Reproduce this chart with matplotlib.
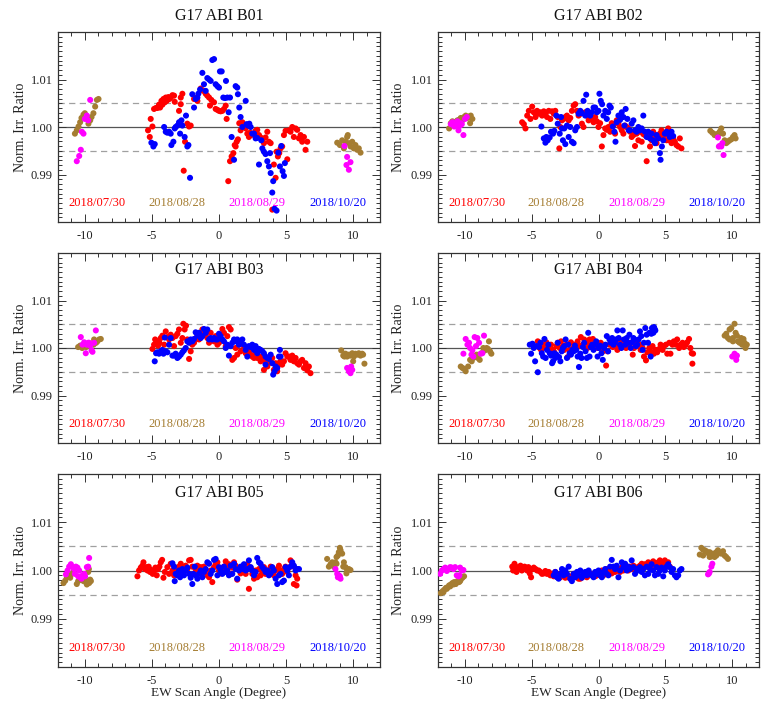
import numpy as np
import matplotlib
matplotlib.use("Agg")
import matplotlib.pyplot as plt
from matplotlib.ticker import MultipleLocator, FixedLocator

plt.rcParams['font.family'] = ['Liberation Serif', 'DejaVu Serif']

# ---------------- data: (EW scan angle [deg], normalized irradiance ratio) ----------------
DATES = ["2018/07/30", "2018/08/28", "2018/08/29", "2018/10/20"]
DATE_COLORS = ["#FF0000", "#A57D32", "#FF00FF", "#0000FF"]
DATE_LABEL_X = [-9.1, -3.15, 2.85, 8.85]
BANDS = ["B01", "B02", "B03", "B04", "B05", "B06"]
XTICKS = [-10, -5, 0, 5, 10]
YTICKS = [0.99, 1.00, 1.01]
YTICK_LABELS = ["0.99", "1.00", "1.01"]

B01_RED = [(-5.29,0.9993),(-5.16,0.9979),(-5.09,1.0017),(-4.96,1.0001),(-4.84,1.0038),(-4.71,1.0040),(-4.59,1.0040),(-4.47,1.0047),(-4.39,1.0041),(-4.29,1.0055),(-4.22,1.0047),(-4.14,1.0059),(-4.04,1.0052),(-3.97,1.0062),(-3.90,1.0055),(-3.85,1.0058),(-3.77,1.0063),(-3.70,1.0059),(-3.60,1.0062),(-3.47,1.0067),(-3.35,1.0066),(-3.30,1.0053),(-2.98,1.0034),(-2.85,1.0048),(-2.73,1.0070),(-2.85,1.0062),(-2.63,0.9908),(-2.53,0.9969),(-2.36,1.0007),(-2.23,1.0001),(-2.11,1.0003),(-1.86,1.0059),(-1.74,1.0061),(-1.61,1.0055),(-1.36,1.0081),(-1.24,1.0077),(-1.12,1.0076),(-0.99,1.0070),(-0.87,1.0066),(-0.74,1.0062),(-0.67,1.0045),(-0.57,1.0057),(-0.37,1.0052),(-0.25,1.0038),(-0.12,1.0036),(0.00,1.0034),(0.12,1.0033),(0.25,1.0034),(0.37,1.0038),(0.50,1.0045),(0.57,1.0017),(0.69,0.9886),(0.82,0.9928),(0.94,0.9938),(1.07,0.9945),(1.17,0.9962),(1.24,0.9959),(1.32,0.9969),(1.41,0.9974),(1.51,1.0008),(1.61,0.9993),(1.74,1.0010),(1.86,1.0003),(1.99,0.9997),(2.11,0.9986),(2.23,0.9979),(2.31,0.9988),(2.41,0.9983),(2.56,0.9986),(2.73,0.9992),(2.85,0.9994),(2.98,0.9983),(3.10,0.9978),(3.23,0.9972),(3.35,0.9966),(3.47,0.9978),(3.60,0.9990),(3.72,0.9969),(3.85,0.9966),(3.97,0.9826),(4.09,0.9921),(4.22,0.9893),(4.29,0.9948),(4.39,0.9938),(4.49,0.9945),(4.59,0.9955),(4.71,0.9959),(4.84,0.9983),(4.96,0.9992),(5.09,0.9932),(5.21,0.9993),(5.33,0.9990),(5.46,1.0000),(5.58,0.9979),(5.71,0.9997),(5.83,0.9994),(5.96,0.9976),(6.08,0.9983),(6.20,0.9969),(6.33,0.9979),(6.45,0.9952),(6.58,0.9969)]
B01_BROWN = [(-10.74,0.9986),(-10.60,0.9993),(-10.47,1.0001),(-10.35,1.0010),(-10.25,1.0019),(-10.10,1.0026),(-10.00,1.0029),(-9.85,1.0022),(-9.73,1.0007),(-9.60,1.0014),(-9.50,1.0021),(-9.36,1.0029),(-9.23,1.0043),(-9.10,1.0057),(-8.98,1.0059),(8.81,0.9967),(9.01,0.9962),(9.18,0.9972),(9.31,0.9955),(9.43,0.9969),(9.55,0.9979),(9.68,0.9966),(9.80,0.9959),(9.93,0.9969),(10.05,0.9955),(10.17,0.9962),(10.30,0.9952),(10.42,0.9955),(10.55,0.9946),(9.60,0.9983)]
B01_MAGENTA = [(-10.60,0.9928),(-10.42,0.9939),(-10.30,0.9952),(-10.22,0.9990),(-10.10,0.9986),(-10.00,1.0017),(-9.85,1.0024),(-9.75,1.0014),(-9.60,1.0057),(9.35,0.9960),(9.55,0.9937),(9.80,0.9926),(9.68,0.9910),(9.50,0.9920)]
B01_BLUE = [(-5.04,0.9967),(-4.89,0.9959),(-4.79,0.9964),(-4.09,1.0000),(-3.97,0.9990),(-3.85,0.9988),(-3.72,0.9990),(-3.60,0.9986),(-3.55,0.9962),(-3.40,0.9969),(-3.30,0.9997),(-3.23,1.0000),(-3.10,1.0003),(-2.98,1.0010),(-2.90,0.9986),(-2.80,1.0014),(-2.73,1.0003),(-2.56,0.9979),(-2.46,1.0024),(-2.36,0.9959),(-2.28,0.9962),(-2.16,0.9893),(-1.99,1.0069),(-1.86,1.0041),(-1.74,1.0059),(-1.61,1.0062),(-1.54,1.0070),(-1.41,1.0079),(-1.24,1.0114),(-1.12,1.0090),(-0.99,1.0076),(-0.87,1.0103),(-0.74,1.0100),(-0.62,1.0097),(-0.50,1.0141),(-0.37,1.0143),(-0.25,1.0090),(-0.12,1.0086),(0.00,1.0083),(0.07,1.0117),(0.20,1.0117),(0.32,1.0062),(0.45,1.0061),(0.52,1.0097),(0.62,1.0062),(0.72,1.0031),(0.82,1.0062),(0.94,0.9979),(1.12,0.9931),(1.24,1.0086),(1.36,1.0083),(1.41,1.0069),(1.51,1.0041),(1.61,1.0021),(1.74,1.0000),(1.99,1.0055),(2.06,1.0006),(2.16,1.0003),(2.26,1.0007),(2.36,1.0000),(2.48,0.9986),(2.61,0.9986),(2.73,0.9976),(2.85,0.9977),(2.98,0.9921),(3.15,0.9972),(3.23,0.9955),(3.35,0.9948),(3.47,0.9943),(3.60,0.9928),(3.72,0.9917),(3.80,0.9945),(3.85,0.9903),(3.97,0.9862),(4.04,0.9886),(4.14,0.9828),(4.29,0.9824),(4.42,0.9946),(4.54,0.9917),(4.64,0.9960),(4.74,0.9907),(4.84,0.9897),(4.91,0.9924)]

B02_RED = [(-5.71,1.0010),(-5.58,1.0006),(-5.46,0.9997),(-5.33,1.0024),(-5.21,1.0034),(-5.09,1.0017),(-4.96,1.0043),(-4.84,1.0031),(-4.71,1.0021),(-4.59,1.0034),(-4.47,1.0028),(-4.34,1.0031),(-4.22,1.0024),(-4.09,1.0033),(-3.97,1.0028),(-3.85,1.0021),(-3.72,1.0034),(-3.60,1.0017),(-3.47,1.0033),(-3.35,1.0028),(-3.23,1.0034),(-3.05,1.0021),(-2.93,0.9955),(-2.85,1.0000),(-2.73,1.0014),(-2.61,1.0017),(-2.48,1.0021),(-2.36,1.0024),(-2.23,1.0014),(-2.11,1.0019),(-1.99,1.0034),(-1.86,1.0045),(-1.74,1.0048),(-1.61,1.0034),(-1.49,1.0024),(-1.36,1.0028),(-1.24,1.0007),(-1.12,1.0000),(-0.99,1.0031),(-0.87,1.0024),(-0.74,1.0014),(-0.62,1.0028),(-0.50,1.0017),(-0.37,1.0010),(-0.25,1.0021),(-0.12,1.0012),(0.00,1.0000),(0.12,1.0008),(0.25,0.9959),(0.37,0.9983),(0.50,0.9997),(0.62,0.9994),(0.74,1.0000),(0.87,0.9990),(0.99,1.0008),(1.12,1.0003),(1.24,0.9986),(1.36,1.0014),(1.49,1.0007),(1.61,1.0000),(1.74,0.9993),(1.86,0.9986),(1.99,1.0003),(2.11,1.0000),(2.23,0.9997),(2.36,0.9990),(2.48,0.9979),(2.61,0.9983),(2.73,0.9960),(2.85,0.9986),(2.98,0.9972),(3.10,0.9990),(3.23,0.9969),(3.35,0.9985),(3.47,0.9983),(3.60,0.9928),(3.72,0.9979),(3.85,0.9959),(3.97,0.9972),(4.09,0.9990),(4.22,0.9979),(4.34,0.9966),(4.47,0.9976),(4.59,0.9986),(4.71,0.9993),(4.84,0.9979),(4.96,0.9983),(5.09,0.9972),(5.21,0.9997),(5.33,0.9972),(5.46,0.9966),(5.58,0.9976),(5.71,0.9969),(5.83,0.9962),(5.96,0.9959),(6.08,0.9976),(6.20,0.9955)]
B02_BROWN = [(-11.17,0.9997),(-11.04,1.0008),(-10.92,1.0012),(-10.79,1.0007),(-10.67,1.0010),(-10.55,1.0014),(-10.42,1.0015),(-10.30,1.0019),(-10.17,1.0014),(-10.05,1.0021),(-9.93,1.0024),(-9.80,1.0019),(-9.68,1.0022),(-9.55,1.0024),(-9.43,1.0017),(-9.60,1.0008),(8.36,0.9992),(8.51,0.9988),(8.68,0.9983),(8.81,0.9985),(8.93,0.9983),(9.06,0.9990),(9.18,0.9997),(9.31,0.9986),(9.43,0.9972),(9.55,0.9966),(9.68,0.9969),(9.80,0.9972),(9.93,0.9974),(10.05,0.9979),(10.17,0.9983),(10.25,0.9976)]
B02_MAGENTA = [(-11.04,1.0006),(-10.92,1.0010),(-10.79,1.0001),(-10.67,1.0007),(-10.55,1.0012),(-10.47,0.9993),(-10.35,1.0003),(-10.22,1.0006),(-10.10,0.9983),(-9.98,1.0017),(-9.85,1.0021),(-10.30,1.0008),(-10.60,1.0003),(8.93,0.9978),(9.06,0.9960),(9.18,0.9959),(9.26,0.9966),(9.35,0.9941),(9.00,0.9959)]
B02_BLUE = [(-4.27,1.0001),(-4.09,0.9976),(-3.97,0.9967),(-3.90,0.9979),(-3.80,0.9972),(-3.65,0.9978),(-3.55,0.9990),(-3.40,0.9986),(-3.30,0.9992),(-3.15,1.0024),(-3.05,1.0007),(-2.90,0.9986),(-2.80,1.0021),(-2.73,0.9997),(-2.66,0.9972),(-2.56,0.9997),(-2.48,0.9964),(-2.36,1.0003),(-2.23,0.9979),(-2.11,1.0000),(-1.99,0.9969),(-1.86,0.9966),(-1.74,0.9993),(-1.61,1.0000),(-1.49,1.0028),(-1.36,1.0034),(-1.24,1.0029),(-1.12,1.0055),(-0.99,1.0024),(-0.92,1.0068),(-0.82,1.0034),(-0.74,1.0028),(-0.62,1.0024),(-0.50,1.0031),(-0.37,1.0041),(-0.25,1.0041),(-0.12,1.0031),(0.00,1.0034),(0.07,1.0070),(0.17,1.0055),(0.27,1.0048),(0.37,1.0024),(0.50,1.0034),(0.62,1.0017),(0.72,1.0031),(0.82,1.0045),(0.92,1.0041),(1.07,1.0001),(1.19,0.9990),(1.27,0.9969),(1.36,1.0010),(1.49,1.0024),(1.61,1.0015),(1.74,1.0031),(1.86,1.0021),(1.94,1.0003),(2.03,1.0038),(2.16,1.0017),(2.26,0.9993),(2.36,0.9993),(2.48,1.0007),(2.61,1.0014),(2.73,0.9993),(2.85,0.9990),(2.98,1.0000),(3.10,0.9993),(3.23,0.9997),(3.35,1.0024),(3.47,0.9990),(3.60,0.9979),(3.72,0.9990),(3.85,0.9976),(3.97,0.9986),(4.09,0.9972),(4.22,0.9966),(4.34,0.9983),(4.47,0.9976),(4.59,0.9945),(4.64,0.9931),(4.74,0.9959),(4.84,0.9972),(4.96,0.9986),(5.09,0.9990),(5.21,0.9986),(5.33,0.9979),(5.46,0.9990),(5.58,0.9981)]

B03_RED = [(-4.96,0.9998),(-4.84,1.0007),(-4.76,1.0018),(-4.64,1.0014),(-4.54,1.0005),(-4.44,1.0011),(-4.34,1.0021),(-4.22,1.0026),(-4.09,1.0007),(-3.97,1.0035),(-3.85,1.0023),(-3.72,1.0018),(-3.60,1.0028),(-3.47,1.0021),(-3.35,1.0004),(-3.23,1.0025),(-3.10,1.0030),(-2.98,1.0039),(-2.85,1.0011),(-2.73,1.0021),(-2.66,1.0051),(-2.56,1.0039),(-2.46,1.0047),(-2.36,1.0018),(-2.23,0.9977),(-2.11,0.9993),(-1.99,1.0007),(-1.86,1.0011),(-1.74,1.0018),(-1.61,1.0025),(-1.49,1.0018),(-1.36,1.0032),(-1.24,1.0039),(-1.12,1.0035),(-0.99,1.0028),(-0.87,1.0021),(-0.74,1.0011),(-0.62,1.0032),(-0.50,1.0018),(-0.37,1.0014),(-0.25,1.0025),(-0.12,1.0007),(0.00,1.0011),(0.12,1.0018),(0.25,1.0040),(0.37,1.0032),(0.50,1.0004),(0.62,1.0025),(0.74,1.0044),(0.87,1.0039),(0.99,0.9975),(1.12,0.9979),(1.24,1.0000),(1.36,0.9986),(1.49,1.0007),(1.61,0.9993),(1.74,1.0007),(1.86,1.0004),(1.99,0.9989),(2.11,0.9996),(2.23,0.9993),(2.36,0.9986),(2.48,0.9982),(2.61,0.9979),(2.73,0.9991),(2.85,0.9979),(2.98,0.9982),(3.10,0.9972),(3.23,0.9982),(3.35,0.9975),(3.47,0.9968),(3.60,0.9961),(3.72,0.9968),(3.85,0.9977),(3.97,0.9979),(4.09,0.9954),(4.22,0.9968),(4.34,0.9960),(4.47,0.9968),(4.59,0.9972),(4.71,0.9965),(4.84,0.9972),(4.96,0.9989),(5.09,0.9982),(5.21,0.9982),(5.33,0.9975),(5.46,0.9984),(5.58,0.9972),(5.71,0.9979),(5.83,0.9968),(5.96,0.9965),(6.08,0.9972),(6.20,0.9975),(6.33,0.9958),(6.45,0.9968),(6.58,0.9953),(6.70,0.9961),(6.82,0.9947),(4.34,0.9951),(3.35,0.9954)]
B03_BROWN = [(-10.50,1.0002),(-10.35,1.0005),(-10.20,1.0000),(-10.05,1.0004),(-9.90,1.0002),(-9.75,1.0005),(-9.60,1.0007),(-9.45,1.0009),(-9.31,1.0018),(-9.16,1.0011),(-9.06,1.0014),(-8.93,1.0018),(-8.81,1.0019),(-9.35,1.0007),(9.11,0.9995),(9.26,0.9984),(9.43,0.9988),(9.55,0.9982),(9.68,0.9986),(9.80,0.9984),(9.93,0.9989),(10.05,0.9982),(10.17,0.9988),(10.30,0.9986),(10.42,0.9989),(10.55,0.9984),(10.67,0.9988),(10.74,0.9986),(10.84,0.9967),(10.00,0.9972),(9.35,0.9982)]
B03_MAGENTA = [(-10.30,1.0023),(-10.17,1.0007),(-10.05,1.0012),(-9.93,0.9989),(-9.85,1.0007),(-9.75,1.0011),(-9.68,1.0011),(-9.55,1.0009),(-9.50,0.9995),(-9.43,0.9992),(-9.31,1.0011),(-9.18,1.0037),(-9.60,1.0005),(9.55,0.9958),(9.68,0.9951),(9.80,0.9947),(9.75,0.9956),(9.93,0.9954),(9.85,0.9961)]
B03_BLUE = [(-4.79,0.9972),(-4.69,0.9989),(-4.59,0.9991),(-4.47,0.9988),(-4.34,0.9993),(-4.22,0.9996),(-4.14,0.9988),(-4.04,1.0022),(-3.97,0.9993),(-3.85,0.9991),(-3.72,1.0007),(-3.60,1.0021),(-3.47,0.9984),(-3.35,0.9984),(-3.23,0.9988),(-3.10,0.9979),(-2.98,0.9982),(-2.85,0.9986),(-2.73,0.9991),(-2.61,0.9995),(-2.48,1.0000),(-2.36,1.0014),(-2.23,1.0011),(-2.11,1.0018),(-1.99,1.0014),(-1.86,1.0019),(-1.74,1.0033),(-1.61,1.0026),(-1.49,1.0032),(-1.36,1.0021),(-1.24,1.0025),(-1.12,1.0040),(-0.99,1.0032),(-0.87,1.0039),(-0.74,1.0018),(-0.62,1.0021),(-0.50,1.0018),(-0.37,1.0021),(-0.25,1.0018),(-0.12,1.0018),(0.00,1.0030),(0.12,1.0025),(0.25,1.0018),(0.37,1.0014),(0.50,1.0000),(0.62,1.0007),(0.74,0.9984),(0.87,1.0004),(0.99,1.0011),(1.12,1.0018),(1.24,1.0014),(1.36,1.0018),(1.49,1.0007),(1.61,1.0011),(1.74,1.0018),(1.86,1.0007),(1.99,0.9996),(2.11,0.9982),(2.23,1.0004),(2.36,1.0002),(2.48,1.0007),(2.61,0.9996),(2.73,1.0004),(2.85,0.9989),(2.98,0.9998),(3.10,0.9996),(3.23,0.9993),(3.35,0.9989),(3.47,0.9982),(3.60,0.9979),(3.72,0.9977),(3.85,0.9986),(3.97,0.9968),(4.04,0.9944),(4.14,0.9951),(4.22,0.9961),(4.34,0.9958),(4.47,0.9982),(4.54,0.9996),(4.59,0.9982),(3.47,0.9965)]

B04_RED = [(-4.54,1.0014),(-4.39,1.0000),(-4.29,0.9996),(-4.14,1.0007),(-4.04,1.0002),(-3.90,1.0012),(-3.72,1.0000),(-3.55,1.0007),(-3.40,0.9996),(-3.30,0.9991),(-3.15,1.0004),(-3.05,1.0011),(-2.90,1.0000),(-2.80,1.0014),(-2.66,1.0004),(-2.56,0.9996),(-2.41,1.0007),(-2.31,0.9981),(-2.16,0.9996),(-2.06,1.0012),(-1.91,1.0000),(-1.81,1.0007),(-1.66,1.0002),(-1.56,1.0014),(-1.41,1.0004),(-1.32,1.0023),(-1.17,1.0007),(-1.07,1.0018),(-0.92,1.0011),(-0.82,1.0000),(-0.67,1.0018),(-0.57,1.0007),(-0.42,1.0019),(-0.32,1.0004),(-0.17,1.0011),(-0.07,1.0000),(0.07,1.0002),(0.17,1.0011),(0.32,0.9993),(0.42,1.0000),(0.57,0.9963),(0.67,0.9993),(0.82,1.0007),(0.92,1.0011),(1.07,1.0002),(1.17,1.0005),(1.32,1.0007),(1.41,0.9996),(1.56,1.0004),(1.66,1.0016),(1.81,1.0004),(1.91,1.0011),(2.06,1.0000),(2.16,1.0007),(2.31,1.0002),(2.41,1.0011),(2.56,0.9986),(2.66,1.0000),(2.80,1.0004),(2.90,1.0011),(3.05,1.0007),(3.15,0.9996),(3.30,1.0000),(3.40,0.9982),(3.55,0.9974),(3.65,0.9991),(3.80,1.0000),(3.90,0.9993),(4.04,1.0004),(4.14,0.9988),(4.29,0.9996),(4.39,0.9991),(4.54,0.9998),(4.64,1.0007),(4.79,0.9996),(4.89,1.0004),(5.04,1.0007),(5.14,0.9988),(5.29,1.0011),(5.38,0.9988),(5.53,1.0007),(5.63,1.0014),(5.78,1.0007),(5.88,1.0018),(6.03,1.0000),(6.13,1.0007),(6.28,1.0011),(6.38,1.0002),(6.53,1.0007),(6.63,1.0012),(6.77,1.0019),(6.87,1.0000),(6.97,0.9989),(7.02,0.9967),(7.07,0.9988)]
B04_BROWN = [(-10.30,0.9961),(-10.17,0.9958),(-10.05,0.9956),(-9.93,0.9951),(-9.75,0.9961),(-9.60,0.9975),(-9.48,0.9972),(-9.36,0.9979),(-9.23,0.9982),(-9.11,0.9986),(-9.01,0.9979),(-8.88,0.9975),(-8.76,0.9989),(-8.61,1.0000),(-8.49,0.9995),(-8.36,1.0000),(-8.19,1.0014),(-8.11,0.9993),(-8.01,0.9988),(-8.26,0.9998),(9.43,1.0026),(9.55,1.0030),(9.68,1.0021),(9.80,1.0039),(9.93,1.0042),(10.05,1.0021),(10.17,1.0051),(10.25,1.0032),(10.35,1.0026),(10.42,1.0014),(10.55,1.0011),(10.67,1.0021),(10.74,1.0007),(10.84,1.0019),(10.92,1.0011),(10.99,1.0000),(11.09,1.0007),(10.05,1.0014),(9.80,1.0018)]
B04_MAGENTA = [(-10.10,0.9988),(-9.93,1.0019),(-9.80,1.0007),(-9.68,1.0011),(-9.60,1.0000),(-9.50,0.9986),(-9.36,0.9982),(-9.26,1.0023),(-9.16,1.0004),(-9.06,1.0021),(-8.93,1.0011),(-8.81,0.9988),(-8.68,0.9989),(-8.56,1.0026),(-9.43,0.9995),(10.00,0.9982),(10.17,0.9988),(10.30,0.9975),(10.35,0.9984)]
B04_BLUE = [(-5.14,1.0007),(-5.04,0.9988),(-4.94,1.0009),(-4.84,1.0000),(-4.74,0.9972),(-4.64,1.0004),(-4.54,0.9949),(-4.44,1.0002),(-4.34,1.0011),(-4.24,0.9989),(-4.14,0.9982),(-4.04,1.0019),(-3.95,0.9979),(-3.85,0.9996),(-3.75,1.0007),(-3.65,0.9989),(-3.55,0.9984),(-3.47,0.9968),(-3.40,0.9972),(-3.30,0.9989),(-3.23,0.9979),(-3.15,0.9986),(-3.05,1.0011),(-2.95,0.9981),(-2.85,0.9972),(-2.75,0.9993),(-2.66,1.0000),(-2.56,1.0004),(-2.46,1.0018),(-2.36,0.9979),(-2.26,1.0007),(-2.16,0.9989),(-2.06,0.9986),(-1.96,0.9996),(-1.86,0.9993),(-1.76,1.0005),(-1.66,0.9996),(-1.56,0.9982),(-1.46,0.9960),(-1.36,0.9988),(-1.27,0.9979),(-1.17,1.0002),(-1.07,1.0011),(-0.97,0.9993),(-0.87,0.9979),(-0.77,1.0032),(-0.67,0.9982),(-0.57,1.0002),(-0.47,1.0007),(-0.37,0.9996),(-0.27,1.0007),(-0.17,1.0014),(-0.07,0.9982),(0.02,1.0000),(0.12,1.0005),(0.22,0.9989),(0.32,0.9975),(0.42,1.0000),(0.52,1.0007),(0.62,1.0025),(0.72,0.9993),(0.82,1.0018),(0.92,1.0011),(1.02,1.0021),(1.12,1.0007),(1.22,1.0012),(1.32,1.0018),(1.41,1.0037),(1.51,1.0021),(1.61,1.0007),(1.71,1.0000),(1.81,1.0037),(1.91,1.0018),(2.01,1.0007),(2.11,1.0021),(2.21,1.0011),(2.31,1.0028),(2.41,1.0000),(2.51,1.0012),(2.61,1.0021),(2.70,1.0018),(2.80,1.0004),(2.90,1.0007),(3.00,1.0018),(3.10,1.0035),(3.20,1.0025),(3.30,0.9996),(3.40,1.0011),(3.50,1.0042),(3.60,1.0028),(3.70,1.0011),(3.80,1.0032),(3.90,0.9982),(3.95,1.0030),(4.00,1.0042),(4.05,1.0042),(4.10,1.0032),(4.15,1.0044),(4.20,1.0040),(4.25,1.0037)]

B05_RED = [(-6.08,0.9988),(-5.96,1.0000),(-5.83,1.0006),(-5.71,1.0010),(-5.63,1.0017),(-5.53,1.0003),(-5.43,1.0007),(-5.33,1.0000),(-5.24,1.0008),(-5.14,0.9997),(-5.04,1.0001),(-4.94,0.9993),(-4.84,0.9999),(-4.74,1.0006),(-4.64,0.9990),(-4.54,1.0003),(-4.44,1.0008),(-4.34,1.0017),(-4.24,1.0022),(-4.14,0.9985),(-4.04,0.9997),(-3.85,1.0007),(-3.72,0.9993),(-3.60,1.0014),(-3.47,1.0000),(-3.35,0.9990),(-3.23,1.0006),(-3.10,0.9997),(-2.98,1.0008),(-2.85,1.0014),(-2.73,0.9997),(-2.61,1.0006),(-2.48,1.0010),(-2.36,1.0003),(-2.23,1.0021),(-2.11,1.0022),(-1.99,1.0008),(-1.86,0.9993),(-1.74,1.0003),(-1.61,1.0010),(-1.49,1.0000),(-1.36,1.0007),(-1.24,0.9994),(-1.12,1.0008),(-0.99,1.0000),(-0.87,0.9990),(-0.74,0.9986),(-0.62,1.0000),(-0.50,0.9976),(-0.37,1.0007),(-0.25,1.0013),(-0.12,1.0017),(0.00,1.0000),(0.12,0.9994),(0.25,1.0001),(0.37,1.0008),(0.50,1.0019),(0.62,1.0003),(0.74,1.0013),(0.87,0.9993),(0.99,1.0006),(1.12,1.0017),(1.24,1.0010),(1.36,0.9981),(1.49,1.0003),(1.61,0.9994),(1.74,1.0000),(1.86,1.0010),(1.99,0.9993),(2.11,1.0013),(2.23,0.9962),(2.36,1.0006),(2.48,0.9993),(2.61,0.9983),(2.73,1.0000),(2.85,0.9986),(2.98,1.0003),(3.10,0.9990),(3.23,0.9997),(3.35,1.0007),(3.47,0.9993),(3.60,1.0000),(3.72,1.0000),(3.85,1.0008),(3.97,1.0001),(4.09,0.9990),(4.22,1.0000),(4.34,1.0003),(4.47,1.0010),(4.59,0.9999),(4.71,0.9993),(4.84,1.0003),(4.96,1.0008),(5.09,0.9997),(5.21,1.0006),(5.33,1.0021),(5.46,1.0014),(5.58,1.0008),(5.71,0.9990),(5.78,0.9969),(5.83,0.9983),(5.58,0.9972)]
B05_BROWN = [(-11.59,0.9974),(-11.46,0.9979),(-11.34,0.9986),(-11.22,0.9990),(-11.09,0.9985),(-10.99,0.9993),(-10.84,0.9997),(-10.60,0.9972),(-10.50,0.9978),(-10.35,0.9981),(-10.22,0.9985),(-10.10,0.9978),(-9.93,0.9976),(-9.85,0.9971),(-9.75,0.9997),(-9.70,1.0003),(-9.80,0.9979),(-9.68,0.9974),(-9.55,0.9978),(-9.60,0.9981),(8.06,1.0024),(8.19,1.0008),(8.31,1.0013),(8.44,1.0017),(8.56,1.0008),(8.68,1.0017),(8.76,1.0028),(8.86,1.0031),(8.93,1.0038),(9.01,1.0047),(9.06,1.0042),(9.18,1.0035),(9.26,1.0008),(9.31,1.0017),(9.43,1.0007),(9.55,1.0000),(9.68,1.0003),(9.80,1.0001),(9.50,0.9994),(8.76,1.0014)]
B05_MAGENTA = [(-11.41,0.9992),(-11.29,1.0000),(-11.17,1.0008),(-11.04,1.0013),(-10.92,1.0007),(-10.79,1.0003),(-10.67,1.0008),(-10.55,1.0006),(-10.42,1.0000),(-10.35,0.9986),(-10.25,0.9983),(-10.17,0.9990),(-10.05,0.9993),(-9.98,0.9988),(-9.85,1.0007),(-9.75,1.0008),(-9.68,1.0026),(-10.50,0.9988),(-10.74,0.9993),(8.68,1.0003),(8.81,0.9993),(8.93,0.9990),(9.06,0.9983),(8.86,0.9986),(9.01,0.9988)]
B05_BLUE = [(-3.47,1.0015),(-3.35,1.0008),(-3.30,0.9978),(-3.23,0.9993),(-3.10,0.9990),(-2.98,1.0000),(-2.90,0.9986),(-2.80,0.9994),(-2.73,1.0003),(-2.61,0.9990),(-2.48,1.0000),(-2.36,1.0006),(-2.23,0.9993),(-2.11,0.9985),(-1.99,0.9972),(-1.91,0.9993),(-1.81,1.0008),(-1.74,0.9990),(-1.61,0.9983),(-1.49,0.9993),(-1.36,1.0000),(-1.24,0.9986),(-1.12,0.9997),(-0.99,1.0003),(-0.87,1.0017),(-0.74,1.0014),(-0.62,0.9993),(-0.50,1.0000),(-0.37,1.0022),(-0.25,1.0024),(-0.12,0.9990),(0.00,1.0007),(0.12,1.0000),(0.25,0.9993),(0.37,1.0008),(0.50,0.9997),(0.62,1.0000),(0.74,0.9990),(0.87,1.0010),(0.99,0.9993),(1.12,1.0014),(1.24,1.0003),(1.36,0.9983),(1.49,1.0000),(1.61,1.0008),(1.74,1.0003),(1.86,1.0013),(1.99,1.0000),(2.11,1.0003),(2.23,1.0021),(2.36,1.0007),(2.48,1.0000),(2.61,0.9990),(2.73,0.9997),(2.85,1.0026),(2.98,1.0017),(3.10,1.0014),(3.23,1.0007),(3.35,1.0003),(3.47,0.9997),(3.60,1.0000),(3.72,0.9990),(3.85,0.9994),(3.97,1.0007),(4.09,1.0000),(4.22,0.9983),(4.34,0.9972),(4.47,0.9990),(4.59,0.9993),(4.71,0.9976),(4.84,0.9979),(4.96,1.0007),(5.09,1.0000),(5.21,0.9990),(5.33,1.0008),(5.46,1.0017),(5.58,1.0010),(5.71,1.0000),(5.83,1.0003),(5.96,1.0003)]

B06_RED = [(-6.45,1.0008),(-6.38,1.0000),(-6.28,1.0014),(-6.20,1.0003),(-6.13,0.9997),(-6.03,1.0007),(-5.93,1.0003),(-5.83,1.0010),(-5.73,1.0000),(-5.63,1.0007),(-5.53,1.0008),(-5.43,1.0006),(-5.33,1.0000),(-5.24,1.0007),(-5.14,0.9994),(-5.04,0.9986),(-4.94,1.0003),(-4.84,1.0006),(-4.71,1.0003),(-4.59,1.0000),(-4.47,1.0000),(-4.34,0.9997),(-4.22,0.9993),(-4.09,0.9994),(-3.97,0.9999),(-3.85,0.9993),(-3.72,0.9997),(-3.60,0.9990),(-3.47,0.9993),(-3.35,0.9988),(-3.23,0.9997),(-3.10,0.9993),(-2.98,0.9990),(-2.85,0.9986),(-2.73,0.9990),(-2.61,0.9992),(-2.48,0.9985),(-2.36,0.9990),(-2.23,0.9986),(-2.11,0.9983),(-1.99,0.9988),(-1.86,0.9993),(-1.74,0.9990),(-1.61,0.9986),(-1.49,0.9983),(-1.36,0.9983),(-1.24,0.9986),(-1.12,0.9992),(-0.99,0.9990),(-0.87,0.9986),(-0.74,0.9990),(-0.62,0.9994),(-0.50,0.9990),(-0.37,0.9993),(-0.25,0.9988),(-0.12,0.9990),(0.00,0.9993),(0.12,0.9997),(0.25,1.0000),(0.37,0.9990),(0.50,0.9993),(0.62,1.0003),(0.74,1.0000),(0.87,0.9997),(0.99,0.9994),(1.12,1.0000),(1.24,0.9997),(1.36,1.0003),(1.49,1.0000),(1.61,0.9997),(1.74,1.0006),(1.86,1.0000),(1.99,1.0007),(2.11,1.0003),(2.23,1.0000),(2.36,1.0008),(2.48,1.0003),(2.61,1.0010),(2.73,1.0007),(2.85,1.0003),(2.98,1.0007),(3.10,1.0010),(3.23,1.0014),(3.35,1.0006),(3.47,1.0013),(3.60,1.0008),(3.72,1.0017),(3.85,1.0014),(3.97,1.0010),(4.09,1.0019),(4.22,1.0015),(4.34,1.0014),(4.47,1.0017),(4.59,1.0021),(4.71,1.0010),(4.84,1.0017),(4.96,1.0021),(5.09,1.0014),(5.21,1.0017),(5.33,1.0008)]
B06_BROWN = [(-11.79,0.9953),(-11.66,0.9957),(-11.54,0.9960),(-11.41,0.9964),(-11.29,0.9965),(-11.17,0.9969),(-11.04,0.9971),(-10.92,0.9974),(-10.79,0.9976),(-10.67,0.9972),(-10.55,0.9978),(-10.42,0.9976),(-10.30,0.9981),(-10.17,0.9985),(-10.05,0.9988),(-11.59,0.9955),(-11.34,0.9962),(-11.09,0.9967),(-10.84,0.9971),(-10.60,0.9976),(-10.35,0.9978),(7.57,1.0033),(7.69,1.0047),(7.82,1.0043),(7.94,1.0042),(8.06,1.0040),(8.19,1.0036),(8.31,1.0038),(8.44,1.0029),(8.56,1.0035),(8.68,1.0028),(8.81,1.0031),(8.93,1.0042),(9.06,1.0036),(9.18,1.0035),(9.31,1.0040),(9.43,1.0031),(9.55,1.0028),(9.68,1.0024),(7.82,1.0031),(8.31,1.0028),(8.81,1.0038)]
B06_MAGENTA = [(-11.84,0.9993),(-11.71,1.0000),(-11.59,1.0003),(-11.46,1.0006),(-11.34,0.9999),(-11.22,1.0003),(-11.09,1.0007),(-10.97,1.0006),(-10.84,1.0003),(-10.72,1.0007),(-10.60,0.9990),(-10.47,0.9988),(-10.35,1.0006),(-10.22,1.0000),(-10.10,1.0001),(-10.40,0.9990),(8.19,0.9992),(8.26,0.9994),(8.44,1.0008),(8.51,1.0014),(8.31,0.9997)]
B06_BLUE = [(-3.35,0.9990),(-3.23,0.9997),(-3.10,0.9986),(-2.98,0.9983),(-2.85,0.9993),(-2.73,1.0003),(-2.61,0.9990),(-2.48,1.0000),(-2.36,0.9993),(-2.23,1.0008),(-2.11,0.9983),(-1.99,0.9978),(-1.86,0.9993),(-1.74,0.9986),(-1.61,0.9997),(-1.49,0.9990),(-1.36,1.0000),(-1.24,0.9985),(-1.12,0.9993),(-0.99,0.9997),(-0.87,0.9990),(-0.74,1.0000),(-0.62,0.9993),(-0.50,0.9990),(-0.37,0.9986),(-0.25,0.9997),(-0.12,0.9993),(0.00,1.0000),(0.12,0.9990),(0.25,0.9986),(0.37,0.9997),(0.50,1.0003),(0.62,0.9993),(0.74,0.9990),(0.87,1.0008),(0.99,1.0022),(1.12,1.0008),(1.24,1.0003),(1.36,1.0010),(1.49,0.9986),(1.61,1.0000),(1.74,1.0017),(1.86,1.0007),(1.99,1.0014),(2.11,1.0000),(2.23,1.0008),(2.36,1.0003),(2.48,1.0021),(2.61,1.0007),(2.73,0.9993),(2.85,1.0003),(2.98,1.0000),(3.10,1.0007),(3.23,0.9997),(3.35,1.0003),(3.47,0.9990),(3.60,1.0008),(3.72,0.9993),(3.85,1.0003),(3.97,1.0013),(4.09,1.0000),(4.22,0.9990),(4.34,1.0007),(4.47,0.9993),(4.59,1.0000),(4.71,1.0006),(4.84,0.9988),(4.96,1.0000),(5.09,1.0008),(5.21,1.0013),(5.33,1.0007),(5.46,0.9997),(5.58,1.0003),(5.71,0.9990),(5.83,0.9986),(5.96,0.9990),(6.08,1.0000),(6.20,1.0003)]

PANEL_SERIES = {
    "B01": [B01_RED, B01_BLUE, B01_BROWN, B01_MAGENTA],
    "B02": [B02_RED, B02_BLUE, B02_BROWN, B02_MAGENTA],
    "B03": [B03_RED, B03_BLUE, B03_BROWN, B03_MAGENTA],
    "B04": [B04_RED, B04_BLUE, B04_BROWN, B04_MAGENTA],
    "B05": [B05_RED, B05_BLUE, B05_BROWN, B05_MAGENTA],
    "B06": [B06_RED, B06_BLUE, B06_BROWN, B06_MAGENTA],
}
SERIES_COLORS = ["#FF0000", "#0000FF", "#A57D32", "#FF00FF"]

# ---------------- layout ----------------
W, H = 762, 704
fig = plt.figure(figsize=(W / 100, H / 100), dpi=100)

col_left = [58, 438]
col_width = [322, 321]
row_top = [32, 253, 474]
row_bottom = [222, 443, 667]
title_y = [1.085, 0.912, 0.900]

for i, band in enumerate(BANDS):
    r, c = divmod(i, 2)
    l = col_left[c]
    w = col_width[c]
    t = row_top[r]
    b = row_bottom[r]
    ax = fig.add_axes([l / W, 1 - b / H, w / W, (b - t) / H])
    ax.set_xlim(-12, 12)
    ax.set_ylim(0.98, 1.02)

    ax.axhline(1.0, color="#555555", lw=0.9, zorder=1)
    for yv in (1.005, 0.995):
        ax.axhline(yv, color="#a0a0a0", lw=0.9, ls=(0, (5, 3.5)), zorder=1)

    for pts, col in zip(PANEL_SERIES[band], SERIES_COLORS):
        arr = np.array(pts)
        ax.scatter(arr[:, 0], arr[:, 1], s=19, color=col, edgecolors="none", zorder=3)

    ax.xaxis.set_major_locator(FixedLocator(XTICKS))
    ax.xaxis.set_minor_locator(MultipleLocator(1))
    ax.set_xticklabels([str(v) for v in XTICKS])
    ax.yaxis.set_major_locator(FixedLocator(YTICKS))
    ax.yaxis.set_minor_locator(MultipleLocator(0.001))
    ax.set_yticklabels(YTICK_LABELS)
    ax.tick_params(which="both", direction="in", top=True, right=True,
                   color="#333333", width=0.7, labelsize=9, labelcolor="#222222")
    ax.tick_params(which="major", length=6)
    ax.tick_params(which="minor", length=3)
    ax.tick_params(axis="x", pad=6)
    ax.tick_params(axis="y", pad=4)
    for sp in ax.spines.values():
        sp.set_color("#333333")
        sp.set_linewidth(0.9)

    ax.text(0.5, title_y[r], f"G17 ABI {band}", transform=ax.transAxes,
            ha="center", va="center", fontsize=11.5, color="#111111")
    ylab_x = (21 - l) / w if c == 0 else (398 - l) / w
    ax.text(ylab_x, 0.5, "Norm. Irr. Ratio", transform=ax.transAxes, rotation=90,
            ha="center", va="center", fontsize=10, color="#222222")

    for d, dc, dx in zip(DATES, DATE_COLORS, DATE_LABEL_X):
        ax.text(dx, 0.9840, d, color=dc, ha="center", va="center", fontsize=9)

    if r == 2:
        ax.text(0.5, (b - 693) / (b - t), "EW Scan Angle (Degree)", transform=ax.transAxes,
                ha="center", va="center", fontsize=9.5, color="#222222")

fig.savefig("out.png", dpi=100)
